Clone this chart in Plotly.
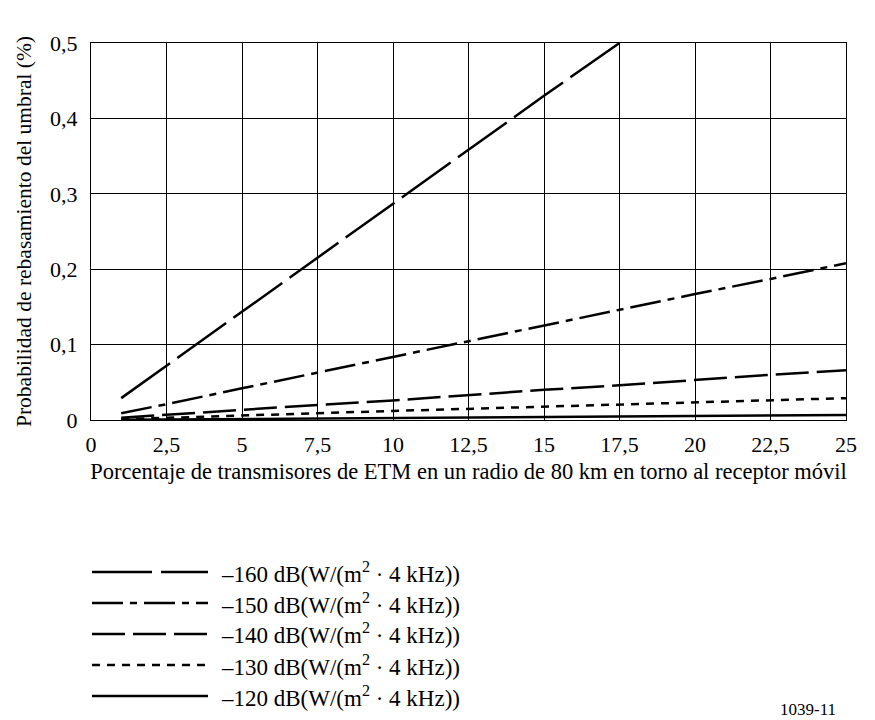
import plotly.graph_objects as go

x_all = [1, 2.5, 5, 7.5, 10, 12.5, 15, 17.5, 20, 22.5, 25]
x_160 = [1, 2.5, 5, 7.5, 10, 12.5, 15, 17.5]

y_160 = [0.029, 0.072, 0.144, 0.215, 0.287, 0.358, 0.430, 0.500]
y_150 = [0.009, 0.021, 0.042, 0.063, 0.084, 0.104, 0.125, 0.146, 0.167, 0.187, 0.208]
y_140 = [0.003, 0.007, 0.013, 0.020, 0.026, 0.033, 0.040, 0.046, 0.053, 0.060, 0.066]
y_130 = [0.001, 0.003, 0.006, 0.009, 0.012, 0.015, 0.017, 0.020, 0.023, 0.026, 0.029]
y_120 = [0.0003, 0.0007, 0.0013, 0.0020, 0.0027, 0.0033, 0.0040, 0.0047, 0.0053, 0.0060, 0.0066]

labels = ["–160 dB(W/(m<sup>2</sup> · 4 kHz))",
          "–150 dB(W/(m<sup>2</sup> · 4 kHz))",
          "–140 dB(W/(m<sup>2</sup> · 4 kHz))",
          "–130 dB(W/(m<sup>2</sup> · 4 kHz))",
          "–120 dB(W/(m<sup>2</sup> · 4 kHz))"]

x_ticks = [0, 2.5, 5, 7.5, 10, 12.5, 15, 17.5, 20, 22.5, 25]
y_ticks = [0, 0.1, 0.2, 0.3, 0.4, 0.5]

FONT = "Liberation Serif, Times New Roman, serif"
dashes = ["60px,9px", "31px,7px,7px,7px", "33px,8px", "8px,7px", "solid"]
series = [(x_160, y_160), (x_all, y_150), (x_all, y_140), (x_all, y_130), (x_all, y_120)]

fig = go.Figure()
for (xs, ys), d, lab in zip(series, dashes, labels):
    fig.add_trace(go.Scatter(x=xs, y=ys, mode="lines", name=lab, showlegend=False,
                             line=dict(color="black", width=2.5, dash=d)))

# page offset (body margin) and plot area in screen pixels
OFF = 8
FW, FH = 875 - OFF, 720 - OFF
L, R, T, B = 91, 846, 43, 420
W, H = R - L, B - T
def px(xp):
    return (xp - L) / W
def py(yp):
    return (B - yp) / H

row_y = [572, 603, 634, 665, 696]
for yy, d, lab in zip(row_y, dashes, labels):
    fig.add_shape(type="line", xref="paper", yref="paper",
                  x0=px(92), x1=px(208), y0=py(yy), y1=py(yy),
                  line=dict(color="black", width=2.5, dash=d))
    fig.add_annotation(xref="paper", yref="paper", x=px(219), y=py(yy),
                       text=lab, showarrow=False, xanchor="left", yanchor="middle",
                       font=dict(family=FONT, size=23, color="black"))

fig.add_annotation(xref="paper", yref="paper", x=px(838), y=py(709),
                   text="1039-11", showarrow=False, xanchor="right", yanchor="middle",
                   font=dict(family=FONT, size=17, color="black"))

fig.update_layout(
    width=FW, height=FH,
    margin=dict(l=L - OFF, r=FW - (R - OFF), t=T - OFF, b=FH - (B - OFF)),
    paper_bgcolor="white", plot_bgcolor="white",
    separators=", ",
    font=dict(family=FONT, size=22, color="black"),
    xaxis=dict(range=[0, 25], tickvals=x_ticks, showgrid=True, gridcolor="black", gridwidth=1,
               showline=True, linecolor="black", linewidth=1, mirror=True, zeroline=False,
               ticks="outside", ticklen=5, tickcolor="rgba(0,0,0,0)", tickfont=dict(size=22),
               title=dict(text="Porcentaje de transmisores de ETM en un radio de 80 km en torno al receptor móvil",
                          font=dict(size=22.5), standoff=6)),
    yaxis=dict(range=[0, 0.5], tickvals=y_ticks, showgrid=True, gridcolor="black", gridwidth=1,
               showline=True, linecolor="black", linewidth=1, mirror=True, zeroline=False,
               ticks="outside", ticklen=8, tickcolor="rgba(0,0,0,0)", tickfont=dict(size=22),
               title=dict(text="Probabilidad de rebasamiento del umbral (%)",
                          font=dict(size=21.5), standoff=12)),
)

fig.write_html("out.html")
